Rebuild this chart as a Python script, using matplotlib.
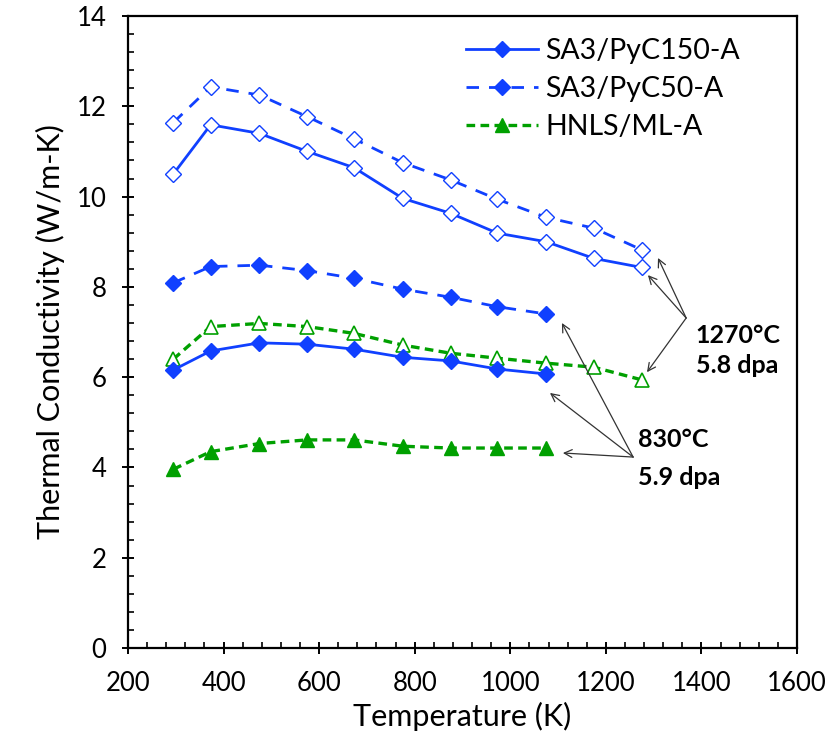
import matplotlib
matplotlib.use("Agg")
import matplotlib.pyplot as plt
from matplotlib.ticker import MultipleLocator

plt.rcParams['font.family'] = ['Lato', 'DejaVu Sans']

temps_long = [295, 373, 475, 575, 673, 775, 875, 973, 1075, 1175, 1275]
temps_short = [295, 373, 475, 575, 673, 775, 875, 973, 1075]

pyc150_1270 = [10.50, 11.59, 11.40, 11.00, 10.64, 9.96, 9.63, 9.19, 9.00, 8.63, 8.43]
pyc50_1270 = [11.64, 12.43, 12.25, 11.77, 11.28, 10.75, 10.37, 9.94, 9.54, 9.30, 8.82]
hnls_1270 = [6.40, 7.12, 7.19, 7.12, 6.97, 6.71, 6.53, 6.42, 6.31, 6.22, 5.94]

pyc150_830 = [6.16, 6.58, 6.76, 6.73, 6.62, 6.44, 6.36, 6.18, 6.07]
pyc50_830 = [8.09, 8.45, 8.48, 8.36, 8.19, 7.95, 7.77, 7.56, 7.40]
hnls_830 = [3.96, 4.35, 4.53, 4.61, 4.61, 4.47, 4.43, 4.43, 4.43]

labels = ["SA3/PyC150-A", "SA3/PyC50-A", "HNLS/ML-A"]
xticks = [200, 400, 600, 800, 1000, 1200, 1400, 1600]
yticks = [0, 2, 4, 6, 8, 10, 12, 14]

blue = '#1040FF'
green = '#00A000'

fig = plt.figure(figsize=(8.32, 7.44), dpi=100)
ax = fig.add_axes([0.1538, 0.129, 0.8042, 0.8495])

lw = 2.0
glw = 2.4
dash50 = (4.5, 3.6)
dashh = (2.6, 1.6)

# 1270C (open markers)
ax.plot(temps_long, pyc50_1270, color=blue, lw=lw, dashes=dash50, marker='D', ms=8,
        mfc='white', mec=blue, mew=1.0)
ax.plot(temps_long, pyc150_1270, color=blue, lw=lw, marker='D', ms=8,
        mfc='white', mec=blue, mew=1.0)
ax.plot(temps_long, hnls_1270, color=green, lw=glw, dashes=dashh, marker='^', ms=10,
        mfc='white', mec=green, mew=1.2)

# 830C (filled markers)
l1, = ax.plot(temps_short, pyc150_830, color=blue, lw=lw, marker='D', ms=8,
              mfc=blue, mec=blue, label=labels[0])
l2, = ax.plot(temps_short, pyc50_830, color=blue, lw=lw, dashes=dash50, marker='D', ms=8,
              mfc=blue, mec=blue, label=labels[1])
l3, = ax.plot(temps_short, hnls_830, color=green, lw=glw, dashes=dashh, marker='^', ms=10,
              mfc=green, mec=green, label=labels[2])

ax.set_xlim(200, 1600)
ax.set_ylim(0, 14)
ax.set_xticks(xticks)
ax.set_yticks(yticks)
ax.xaxis.set_minor_locator(MultipleLocator(40))
ax.yaxis.set_minor_locator(MultipleLocator(0.4))
ax.tick_params(which='major', direction='inout', length=9, width=1.4, labelsize=18.5)
ax.tick_params(axis='x', which='major', pad=12)
ax.tick_params(axis='y', which='major', pad=11)
ax.tick_params(which='minor', direction='in', length=4.5, width=1.2)
ax.tick_params(top=False, right=False, which='both')
for s in ax.spines.values():
    s.set_linewidth(1.6)

ax.set_xlabel("Temperature (K)", fontsize=22, labelpad=4)
ax.set_ylabel("Thermal Conductivity (W/m-K)", fontsize=22, labelpad=8)

leg = ax.legend(handles=[l1, l2, l3], loc='upper left', bbox_to_anchor=(0.505, 0.965),
                frameon=False, fontsize=20.5, handlelength=2.55, handletextpad=0.25,
                labelspacing=0.42, borderpad=0, borderaxespad=0)

# annotations
acol = '#333333'
ap = dict(arrowstyle='->', color=acol, lw=0.9, shrinkA=0, shrinkB=0, mutation_scale=14)
src1270 = (1368, 7.31)
for head in [(1309, 8.64), (1288, 8.26), (1286, 6.11)]:
    ax.annotate('', xy=head, xytext=src1270, arrowprops=ap)
src830 = (1257, 4.23)
for head in [(1108, 7.20), (1083, 5.65), (1110, 4.32)]:
    ax.annotate('', xy=head, xytext=src830, arrowprops=ap)

ax.text(1388, 6.93, "1270°C", fontsize=18, fontweight='bold', va='center', ha='left')
ax.text(1388, 6.25, "5.8 dpa", fontsize=18, fontweight='bold', va='center', ha='left')
ax.text(1268, 4.61, "830°C", fontsize=18, fontweight='bold', va='center', ha='left')
ax.text(1268, 3.77, "5.9 dpa", fontsize=18, fontweight='bold', va='center', ha='left')

fig.savefig("out.png", dpi=100)
